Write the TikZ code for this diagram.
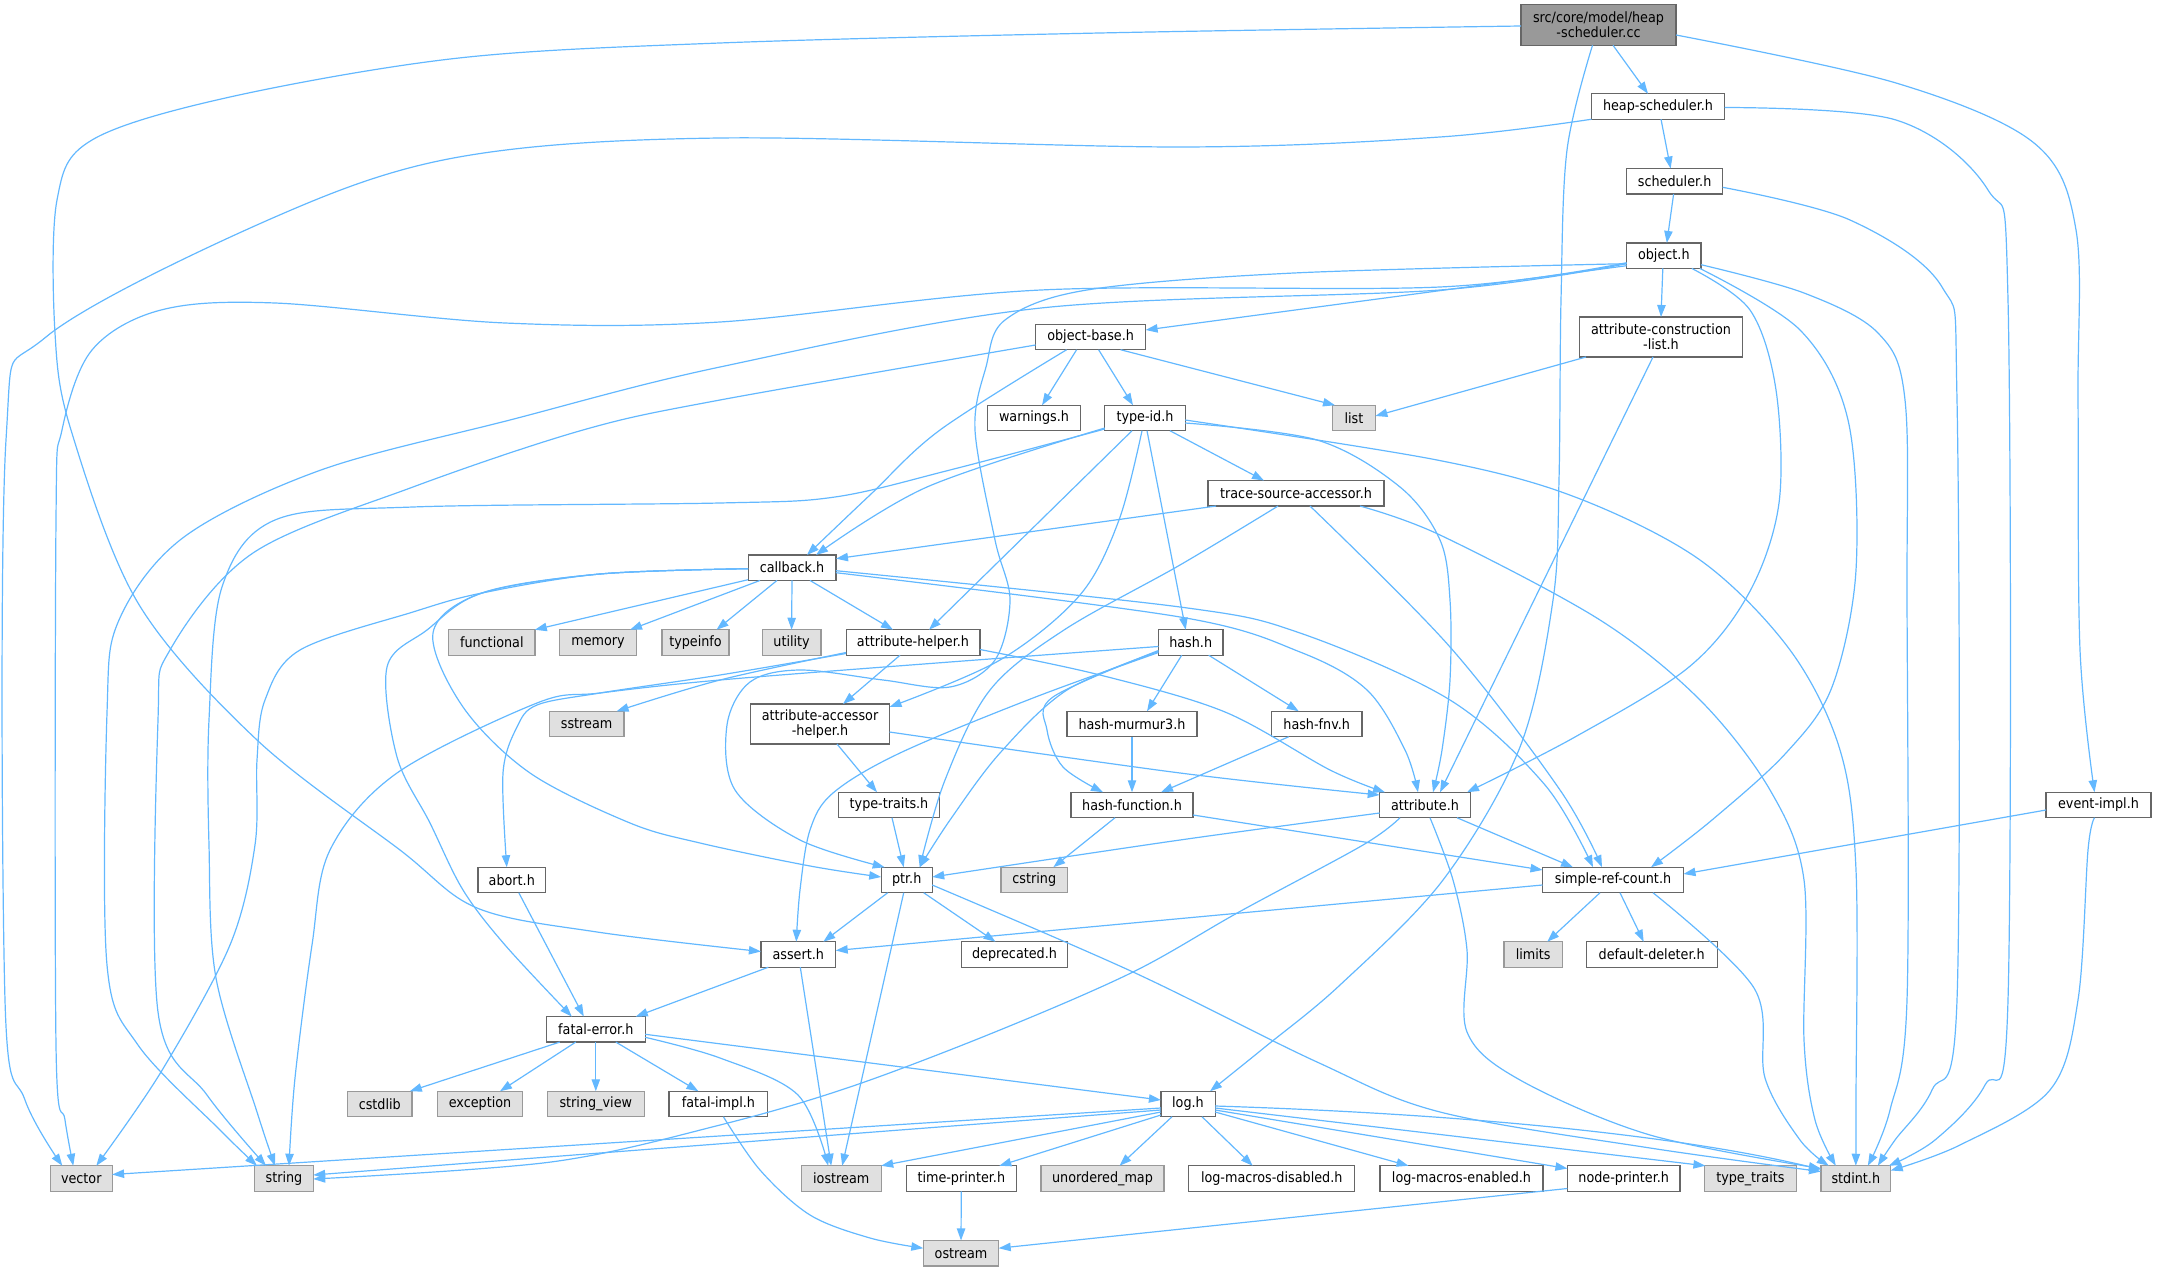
\documentclass[tikz,border=0pt]{standalone}
\usepackage{fontspec}
\setmainfont{DejaVu Sans}[FakeStretch=0.9]
\usetikzlibrary{arrows.meta,calc}
\definecolor{edgec}{HTML}{63B8FF}
\definecolor{bordc}{HTML}{666666}
\definecolor{gbord}{HTML}{999999}
\definecolor{gfill}{HTML}{E0E0E0}
\definecolor{rootfill}{HTML}{999999}
\begin{document}
\begin{tikzpicture}[x=0.5pt,y=-0.5pt,
 nd/.style={draw=bordc, fill=white, line width=0.6pt, inner sep=0pt, minimum height=12.75pt, font=\fontsize{7.1}{7.6}\selectfont, align=center},
 sys/.style={nd, draw=gbord, fill=gfill},
 e/.style={draw=edgec, line width=0.6pt, -{Triangle[length=6pt,width=4.2pt]}},
 sm/.style={smooth, tension=0.55}]
\path[use as bounding box] (0,0) rectangle (2157,1272);
% nodes
\node[nd,fill=rootfill,minimum width=77.5pt,minimum height=20.3pt] (root) at (1598.5,25) {src/core/model/heap\\-scheduler.cc};
\node[nd,minimum width=66.5pt] (hsh) at (1658,106.5) {heap-scheduler.h};
\node[nd,minimum width=48pt] (sch) at (1674.6,181.3) {scheduler.h};
\node[nd,minimum width=37.2pt] (obj) at (1663.8,255.7) {object.h};
\node[nd,minimum width=81.5pt,minimum height=20pt] (acl) at (1661,337) {attribute-construction\\-list.h};
\node[nd,minimum width=55pt] (obase) at (1090.6,337) {object-base.h};
\node[nd,minimum width=46.5pt] (warn) at (1034,418) {warnings.h};
\node[nd,minimum width=40.2pt] (tid) at (1145,418) {type-id.h};
\node[sys,minimum width=21.4pt] (list) at (1354,418) {list};
\node[nd,minimum width=88pt] (tsa) at (1296,493.3) {trace-source-accessor.h};
\node[nd,minimum width=43.9pt] (cb) at (792,567.7) {callback.h};
\node[sys,minimum width=43.2pt] (func) at (491.8,642.5) {functional};
\node[sys,minimum width=38.8pt] (mem) at (598,642.5) {memory};
\node[sys,minimum width=33.5pt] (tinfo) at (695.5,642.5) {typeinfo};
\node[sys,minimum width=29.4pt] (util) at (791.6,642.5) {utility};
\node[nd,minimum width=66.9pt] (ahelp) at (913,642.5) {attribute-helper.h};
\node[nd,minimum width=32.2pt] (hash) at (1190.7,642.5) {hash.h};
\node[sys,minimum width=37.4pt] (sstream) at (586.6,724) {sstream};
\node[nd,minimum width=69.5pt,minimum height=20pt] (aah) at (820,724) {attribute-accessor\\-helper.h};
\node[nd,minimum width=65pt] (mur) at (1132,724) {hash-murmur3.h};
\node[nd,minimum width=45.3pt] (fnv) at (1316.7,724) {hash-fnv.h};
\node[nd,minimum width=50.8pt] (tt) at (889,805) {type-traits.h};
\node[nd,minimum width=61pt] (hf) at (1132,805) {hash-function.h};
\node[nd,minimum width=45.3pt] (attr) at (1425,805) {attribute.h};
\node[nd,minimum width=52.5pt] (evi) at (2098.5,805) {event-impl.h};
\node[nd,minimum width=33.8pt] (abort) at (511.8,880) {abort.h};
\node[nd,minimum width=25.5pt] (ptr) at (906.7,880) {ptr.h};
\node[sys,minimum width=33.3pt] (cstring) at (1034.3,880) {cstring};
\node[nd,minimum width=70.5pt] (src) at (1613,880) {simple-ref-count.h};
\node[nd,minimum width=37.4pt] (assert) at (798.3,954.5) {assert.h};
\node[nd,minimum width=53pt] (depr) at (1014.5,954.5) {deprecated.h};
\node[sys,minimum width=29.2pt] (limits) at (1533.2,954.5) {limits};
\node[nd,minimum width=65.5pt] (dd) at (1651.7,954.5) {default-deleter.h};
\node[nd,minimum width=49.4pt] (fe) at (595.8,1029.3) {fatal-error.h};
\node[sys,minimum width=32.2pt] (cstdlib) at (379.8,1104) {cstdlib};
\node[sys,minimum width=42.7pt] (exc) at (480,1104) {exception};
\node[sys,minimum width=48.5pt] (sv) at (595.8,1104) {string\_view};
\node[nd,minimum width=49.4pt] (fi) at (718.4,1104) {fatal-impl.h};
\node[nd,minimum width=27.1pt] (log) at (1188,1104) {log.h};
\node[sys,minimum width=30.8pt] (vector) at (81.3,1178.5) {vector};
\node[sys,minimum width=29.2pt] (string) at (284,1178.5) {string};
\node[sys,minimum width=40pt] (iostream) at (841.2,1178.5) {iostream};
\node[nd,minimum width=54.9pt] (tp) at (961.3,1178.5) {time-printer.h};
\node[sys,minimum width=61.5pt] (umap) at (1102.5,1178.5) {unordered\_map};
\node[nd,minimum width=82.9pt] (lmd) at (1271.7,1178.5) {log-macros-disabled.h};
\node[nd,minimum width=81.5pt] (lme) at (1461.5,1178.5) {log-macros-enabled.h};
\node[nd,minimum width=56.3pt] (np) at (1623.7,1178.5) {node-printer.h};
\node[sys,minimum width=45.7pt] (tyt) at (1750.4,1178.5) {type\_traits};
\node[sys,minimum width=34.9pt] (stdint) at (1855.8,1178.5) {stdint.h};
\node[sys,minimum width=37.7pt] (ostream) at (961,1253.2) {ostream};
% root edges
\draw[e] ($(root)+(14.5,20.3)$) -- ($(hsh)+(-10,-12.75)$);
\draw[e] plot[sm] coordinates {($(root)+(-77.5,1)$) (1100,33) (720,43) (459,58) (230,97) (92,140) (57,200) (55,333) (71,430) (138,603) (257,740) (400,850) (477,908) (597,932) ($(assert)+(-37.4,-3)$)};
\draw[e] plot[sm] coordinates {($(root)+(-6,20.3)$) (1567,150) (1561,300) (1559,480) (1553,600) (1520,747) (1443,880) (1340,985) (1265,1047) ($(log)+(22,-12.75)$)};
\draw[e] plot[sm] coordinates {($(root)+(77.5,10)$) (1896,83) (2034,143) (2076,230) (2078,400) (2080,650) ($(evi)+(-4,-12.75)$)};
% heap-scheduler.h
\draw[e] ($(hsh)+(3,12.75)$) -- ($(sch)+(-4,-12.75)$);
\draw[e] plot[sm] coordinates {($(hsh)+(66.5,1)$) (1896,120) (1988,190) (2008,300) (2008,1000) (1985,1085) (1935,1140) ($(stdint)+(33,-12.75)$)};
\draw[e] plot[sm] coordinates {($(hsh)+(-66.5,12.75)$) (1440,137) (1179,147) (720,138) (459,157) (275,217) (46,337) (6,440) (5,1000) (25,1100) ($(vector)+(-19,-12.75)$)};
% scheduler.h
\draw[e] ($(sch)+(-1,12.75)$) -- ($(obj)+(3,-12.75)$);
\draw[e] plot[sm] coordinates {($(sch)+(48,6)$) (1850,220) (1942,287) (1957,400) (1957,1000) (1932,1090) (1895,1140) ($(stdint)+(22,-12.75)$)};
% object.h
\draw[e] ($(obj)+(-1,12.75)$) -- ($(acl)+(0,-20)$);
\draw[e] ($(obj)+(-37.2,10)$) -- ($(obase)+(55,-7)$);
\draw[e] plot[sm] coordinates {($(obj)+(28,12.75)$) (1750,310) (1776,390) (1779,503) (1749,593) (1689,667) (1575,737) ($(attr)+(42,-12.75)$)};
\draw[e] plot[sm] coordinates {($(obj)+(36,12.75)$) (1800,330) (1848,420) (1856,570) (1832,687) (1786,753) (1712,820) ($(src)+(38,-12.75)$)};
\draw[e] plot[sm] coordinates {($(obj)+(37.2,9)$) (1804,293) (1878,333) (1905,400) (1907,600) (1907,1000) (1890,1110) ($(stdint)+(12,-12.75)$)};
\draw[e] plot[sm] coordinates {($(obj)+(-37.2,8)$) (1294,273) (1087,290) (1005,320) (986,367) (975,430) (995,540) (1010,600) (995,660) (950,687) (883,680) (800,670) (750,682) (727,725) (735,790) (800,840) ($(ptr)+(-22,-12.75)$)};
\draw[e] plot[sm] coordinates {($(obj)+(-37.2,8)$) (1440,290) (1041,308) (720,367) (510,420) (321,470) (184,537) (119,620) (107,713) (107,965) (138,1045) (220,1130) ($(string)+(-27,-12.75)$)};
\draw[e] plot[sm] coordinates {($(obj)+(-37.2,7)$) (1440,287) (1041,290) (720,322) (505,323) (275,303) (161,310) (92,350) (62,430) (56,520) (56,1045) (65,1120) ($(vector)+(-8,-12.75)$)};
% object-base.h
\draw[e] plot[sm] coordinates {($(obase)+(-24,12.75)$) (940,430) (870,495) ($(cb)+(15,-12.75)$)};
\draw[e] ($(obase)+(-14,12.75)$) -- ($(warn)+(8,-12.75)$);
\draw[e] ($(obase)+(8,12.75)$) -- ($(tid)+(-12,-12.75)$);
\draw[e] ($(obase)+(30,12.75)$) -- ($(list)+(-19,-12.75)$);
\draw[e] plot[sm] coordinates {($(obase)+(-55,8)$) (720,400) (583,430) (413,487) (253,553) (170,650) (158,720) (158,1012) (207,1095) ($(string)+(-18,-12.75)$)};
% attribute-construction-list.h
\draw[e] ($(acl)+(-75,20)$) -- ($(list)+(21.4,-2)$);
\draw[e] ($(acl)+(-8,20)$) -- ($(attr)+(15,-12.75)$);
% type-id.h
\draw[e] plot[sm] coordinates {($(tid)+(-40.2,10)$) (927,487) ($(cb)+(24,-12.75)$)};
\draw[e] plot[sm] coordinates {($(tid)+(-40.2,11)$) (950,470) (835,497) (720,503) (413,507) (275,520) (222,587) (209,720) (209,845) (216,978) (257,1112) ($(string)+(-9,-12.75)$)};
\draw[e] ($(tid)+(-13,12.75)$) -- ($(ahelp)+(16,-12.75)$);
\draw[e] plot[sm] coordinates {($(tid)+(-3,12.75)$) (1119,520) (1080,595) (1000,660) ($(aah)+(69.5,-17)$)};
\draw[e] ($(tid)+(2,12.75)$) -- ($(hash)+(-5,-12.75)$);
\draw[e] ($(tid)+(25,12.75)$) -- ($(tsa)+(-32,-12.75)$);
\draw[e] plot[sm] coordinates {($(tid)+(40.2,5)$) (1317,440) (1400,487) (1440,540) (1450,600) (1450,680) (1442,750) ($(attr)+(8,-12.75)$)};
\draw[e] plot[sm] coordinates {($(tid)+(40.2,2)$) (1437,460) (1575,497) (1700,560) (1790,650) (1840,750) (1856,870) (1856,1100) ($(stdint)+(0,-12.75)$)};
% trace-source-accessor.h
\draw[e] ($(tsa)+(-80,12.75)$) -- ($(cb)+(44,-9)$);
\draw[e] plot[sm] coordinates {($(tsa)+(-18,12.75)$) (1180,565) (1064,630) (990,690) (945,780) ($(ptr)+(13,-12.75)$)};
\draw[e] plot[sm] coordinates {($(tsa)+(14,12.75)$) (1450,647) (1560,790) ($(src)+(-11,-12.75)$)};
\draw[e] plot[sm] coordinates {($(tsa)+(64,12.75)$) (1440,535) (1600,620) (1700,700) (1770,790) (1804,880) (1804,1040) (1815,1120) ($(stdint)+(-20,-12.75)$)};
% callback.h
\draw[e] ($(cb)+(-43.9,12)$) -- ($(func)+(43,-12.75)$);
\draw[e] ($(cb)+(-32,12.75)$) -- ($(mem)+(32,-12.75)$);
\draw[e] ($(cb)+(-15,12.75)$) -- ($(tinfo)+(21,-12.75)$);
\draw[e] ($(cb)+(0,12.75)$) -- ($(util)+(0,-12.75)$);
\draw[e] ($(cb)+(18,12.75)$) -- ($(ahelp)+(-20,-12.75)$);
\draw[e] plot[sm] coordinates {($(cb)+(43.9,5)$) (1180,617) (1300,652) (1367,690) (1405,750) ($(attr)+(-7,-12.75)$)};
\draw[e] plot[sm] coordinates {($(cb)+(43.9,3)$) (1180,607) (1300,633) (1450,700) (1545,785) ($(src)+(-20,-12.75)$)};
\draw[e] plot[sm] coordinates {($(cb)+(-43.9,1)$) (600,574) (482,593) (413,612) (300,650) (265,700) (257,760) (255,845) (230,945) (161,1072) ($(vector)+(15,-12.75)$)};
\draw[e] plot[sm] coordinates {($(cb)+(-43.9,1)$) (600,574) (482,593) (427,630) (387,667) (397,757) (430,823) (463,890) (505,945) ($(fe)+(-24,-12.75)$)};
\draw[e] plot[sm] coordinates {($(cb)+(-43.9,1)$) (600,574) (482,593) (433,633) (463,707) (530,773) (630,823) (700,843) (810,866) ($(ptr)+(-25.5,-3)$)};
% attribute-helper.h
\draw[e] ($(ahelp)+(-13,12.75)$) -- ($(aah)+(23,-20)$);
\draw[e] plot[sm] coordinates {($(ahelp)+(66.9,7)$) (1100,675) (1225,712) (1330,770) ($(attr)+(-40,-12.75)$)};
\draw[e] plot[sm] coordinates {($(ahelp)+(-66.9,10)$) (720,680) ($(sstream)+(30,-12.75)$)};
\draw[e] plot[sm] coordinates {($(ahelp)+(-66.9,11)$) (720,675) (600,693) (537,705) (517,727) (503,773) ($(abort)+(-5,-12.75)$)};
% hash.h
\draw[e] plot[sm] coordinates {($(hash)+(-32.2,4)$) (950,662) (720,680) (600,693) (537,703) (397,773) (330,850) (312,945) (295,1078) ($(string)+(5,-12.75)$)};
\draw[e] ($(hash)+(-9,12.75)$) -- ($(mur)+(15,-12.75)$);
\draw[e] ($(hash)+(18,12.75)$) -- ($(fnv)+(-18,-12.75)$);
\draw[e] plot[sm] coordinates {($(hash)+(-32.2,8)$) (1053,697) (1047,730) (1063,767) ($(hf)+(-29,-12.75)$)};
\draw[e] plot[sm] coordinates {($(hash)+(-32.2,9)$) (1067,690) (1000,753) (950,820) ($(ptr)+(13,-12.75)$)};
\draw[e] plot[sm] coordinates {($(hash)+(-32.2,10)$) (1033,698) (900,753) (833,793) (810,830) (800,890) ($(assert)+(-2,-12.75)$)};
% attribute-accessor-helper.h, type-traits, hash family
\draw[e] ($(aah)+(17,20)$) -- ($(tt)+(-12,-12.75)$);
\draw[e] plot[sm] coordinates {($(aah)+(69.5,8)$) (1180,773) ($(attr)+(-45.3,-10)$)};
\draw[e] ($(tt)+(3,12.75)$) -- ($(ptr)+(-3,-12.75)$);
\draw[e] ($(mur)+(0,12.75)$) -- ($(hf)+(0,-12.75)$);
\draw[e] ($(fnv)+(-28,12.75)$) -- ($(hf)+(29,-12.75)$);
\draw[e] ($(hf)+(-17,12.75)$) -- ($(cstring)+(19,-12.75)$);
\draw[e] ($(hf)+(61,10)$) -- ($(src)+(-70.5,-10)$);
% attribute.h
\draw[e] plot[sm] coordinates {($(attr)+(-45.3,8)$) (1180,840) ($(ptr)+(25.5,-3)$)};
\draw[e] ($(attr)+(32,12.75)$) -- ($(src)+(-40,-12.75)$);
\draw[e] plot[sm] coordinates {($(attr)+(-25,12.75)$) (1363,845) (1239,912) (1133,972) (995,1032) (850,1087) (720,1125) (551,1162) ($(string)+(29.2,0.5)$)};
\draw[e] plot[sm] coordinates {($(attr)+(5,12.75)$) (1453,880) (1467,950) (1467,1032) (1520,1080) (1650,1135) ($(stdint)+(-34.9,-10)$)};
% event-impl.h
\draw[e] ($(evi)+(-52.5,5)$) -- ($(src)+(70.5,-6)$);
\draw[e] plot[sm] coordinates {($(evi)+(-4,12.75)$) (2088,850) (2078,1000) (2050,1090) (1960,1145) ($(stdint)+(34.9,-8)$)};
% simple-ref-count.h
\draw[e] ($(src)+(-70.5,5)$) -- ($(assert)+(37.4,-4)$);
\draw[e] ($(src)+(-13,12.75)$) -- ($(limits)+(14,-12.75)$);
\draw[e] ($(src)+(7,12.75)$) -- ($(dd)+(-8,-12.75)$);
\draw[e] plot[sm] coordinates {($(src)+(40,12.75)$) (1754,988) (1765,1078) (1800,1140) ($(stdint)+(-27,-12.75)$)};
% ptr.h
\draw[e] ($(ptr)+(-19,12.75)$) -- ($(assert)+(25,-12.75)$);
\draw[e] ($(ptr)+(17,12.75)$) -- ($(depr)+(-19,-12.75)$);
\draw[e] ($(ptr)+(-3,12.75)$) -- ($(iostream)+(1,-12.75)$);
\draw[e] plot[sm] coordinates {($(ptr)+(25.5,5)$) (1133,972) (1317,1062) (1440,1112) (1650,1148) ($(stdint)+(-34.9,-7)$)};
% assert.h, abort.h
\draw[e] ($(assert)+(-30,12.75)$) -- ($(fe)+(40,-12.75)$);
\draw[e] ($(assert)+(2,12.75)$) -- ($(iostream)+(-10,-12.75)$);
\draw[e] ($(abort)+(7,12.75)$) -- ($(fe)+(-12,-12.75)$);
% fatal-error.h
\draw[e] ($(fe)+(-36,12.75)$) -- ($(cstdlib)+(30,-12.75)$);
\draw[e] ($(fe)+(-20,12.75)$) -- ($(exc)+(20,-12.75)$);
\draw[e] ($(fe)+(0,12.75)$) -- ($(sv)+(0,-12.75)$);
\draw[e] ($(fe)+(20,12.75)$) -- ($(fi)+(-20,-12.75)$);
\draw[e] ($(fe)+(49.4,5)$) -- ($(log)+(-27.1,-4)$);
\draw[e] plot[sm] coordinates {($(fe)+(49.4,8)$) (720,1058) (798,1095) ($(iostream)+(-13,-12.75)$)};
\draw[e] plot[sm] coordinates {($(fi)+(5,12.75)$) (760,1170) (810,1215) (870,1238) ($(ostream)+(-37.7,-5)$)};
% log.h
\draw[e] ($(log)+(-27.1,4)$) -- ($(vector)+(30.8,-4)$);
\draw[e] ($(log)+(-27.1,6)$) -- ($(string)+(29.2,-3.5)$);
\draw[e] ($(log)+(-27.1,8)$) -- ($(iostream)+(40,-12.75)$);
\draw[e] ($(log)+(-27.1,11)$) -- ($(tp)+(38,-12.75)$);
\draw[e] ($(log)+(-16,12.75)$) -- ($(umap)+(17,-12.75)$);
\draw[e] ($(log)+(14,12.75)$) -- ($(lmd)+(-19,-12.75)$);
\draw[e] ($(log)+(27.1,8)$) -- ($(lme)+(-53,-12.75)$);
\draw[e] ($(log)+(27.1,6)$) -- ($(np)+(-56.3,-10)$);
\draw[e] ($(log)+(27.1,4)$) -- ($(tyt)+(-45,-12.75)$);
\draw[e] ($(log)+(27.1,2)$) .. controls (1500,1115) and (1700,1140) .. ($(stdint)+(-34.9,-9)$);
\draw[e] ($(tp)+(0,12.75)$) -- ($(ostream)+(0,-12.75)$);
\draw[e] ($(np)+(-56.3,10)$) -- ($(ostream)+(37.7,-5)$);
\end{tikzpicture}
\end{document}
